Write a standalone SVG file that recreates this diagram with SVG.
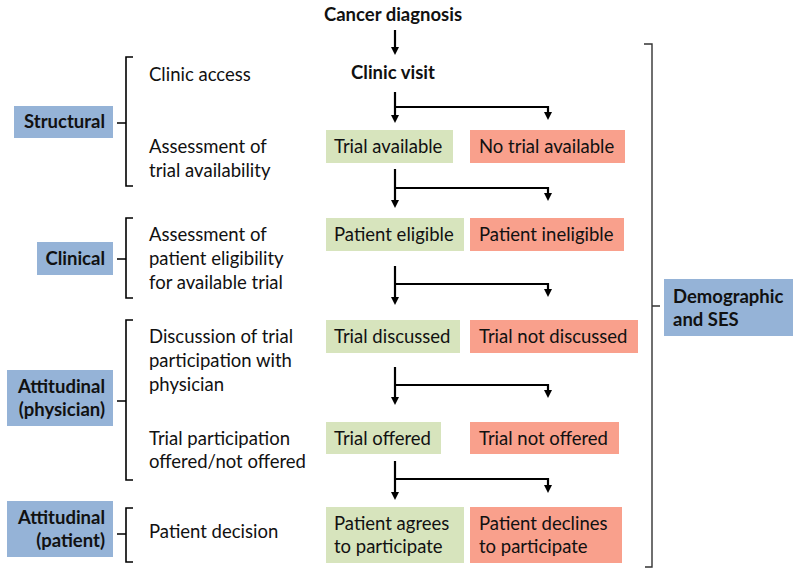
<svg xmlns="http://www.w3.org/2000/svg" width="800" height="576" viewBox="0 0 800 576">
<style>
.t{font-family:Lato,"Liberation Sans",sans-serif;font-size:18.5px;fill:#111}
.b{font-family:Lato,"Liberation Sans",sans-serif;font-size:18.5px;font-weight:bold;fill:#111}
.r{text-anchor:end}
.g{fill:#d7e4bd}
.s{fill:#f9a08c}
.c{fill:#95b3d7}
.ln{stroke:#000;stroke-width:2.2;fill:none}
.br{stroke:#000;stroke-width:1.6;fill:none}
.bb{stroke:#333;stroke-width:1.4;fill:none}
</style>
<defs>
<marker id="ah" markerUnits="userSpaceOnUse" viewBox="0 0 8 8" refX="2" refY="4" markerWidth="8" markerHeight="8" orient="auto">
<path d="M0,0 L8,4 L0,8 z" fill="#000"/>
</marker>
</defs>
<rect width="800" height="576" fill="#fff"/>

<g id="cancer-diagnosis"><text class="b" x="393" y="21" text-anchor="middle">Cancer diagnosis</text></g>
<g id="clinic-visit"><text class="b" x="393" y="79" text-anchor="middle">Clinic visit</text></g>

<g id="trial-available"><rect class="g" x="326" y="130" width="127" height="33"/><text class="t" x="334" y="153">Trial available</text></g>
<g id="no-trial-available"><rect class="s" x="470" y="130" width="155" height="33"/><text class="t" x="479" y="153">No trial available</text></g>
<g id="patient-eligible"><rect class="g" x="326" y="218" width="138" height="33"/><text class="t" x="334" y="241">Patient eligible</text></g>
<g id="patient-ineligible"><rect class="s" x="470" y="218" width="154" height="33"/><text class="t" x="479" y="241">Patient ineligible</text></g>
<g id="trial-discussed"><rect class="g" x="326" y="320" width="134" height="33"/><text class="t" x="334" y="343">Trial discussed</text></g>
<g id="trial-not-discussed"><rect class="s" x="470" y="320" width="168" height="33"/><text class="t" x="479" y="343">Trial not discussed</text></g>
<g id="trial-offered"><rect class="g" x="326" y="422" width="115" height="32"/><text class="t" x="334" y="445">Trial offered</text></g>
<g id="trial-not-offered"><rect class="s" x="470" y="422" width="149" height="32"/><text class="t" x="479" y="445">Trial not offered</text></g>
<g id="patient-agrees"><rect class="g" x="326" y="507" width="138" height="56"/><text class="t" x="334" y="530">Patient agrees</text><text class="t" x="334" y="553">to participate</text></g>
<g id="patient-declines"><rect class="s" x="470" y="507" width="152" height="56"/><text class="t" x="479" y="530">Patient declines</text><text class="t" x="479" y="553">to participate</text></g>

<g id="structural"><rect class="c" x="14" y="106" width="99" height="32"/><text class="b r" x="105" y="128">Structural</text></g>
<g id="clinical"><rect class="c" x="37" y="242" width="76" height="33"/><text class="b r" x="105" y="265">Clinical</text></g>
<g id="attitudinal-physician"><rect class="c" x="7" y="370" width="106" height="56"/><text class="b r" x="105" y="393">Attitudinal</text><text class="b r" x="105" y="416">(physician)</text></g>
<g id="attitudinal-patient"><rect class="c" x="7" y="501" width="106" height="56"/><text class="b r" x="105" y="524">Attitudinal</text><text class="b r" x="105" y="547">(patient)</text></g>
<g id="demographic-ses"><rect class="c" x="664" y="279" width="129" height="57"/><text class="b" x="673" y="303">Demographic</text><text class="b" x="673" y="326">and SES</text></g>

<g id="step-labels">
<text class="t" x="149" y="81">Clinic access</text>
<text class="t" x="149" y="153">Assessment of</text>
<text class="t" x="149" y="177">trial availability</text>
<text class="t" x="149" y="241">Assessment of</text>
<text class="t" x="149" y="265">patient eligibility</text>
<text class="t" x="149" y="289">for available trial</text>
<text class="t" x="149" y="343">Discussion of trial</text>
<text class="t" x="149" y="367">participation with</text>
<text class="t" x="149" y="391">physician</text>
<text class="t" x="149" y="445">Trial participation</text>
<text class="t" x="149" y="468">offered/not offered</text>
<text class="t" x="149" y="538">Patient decision</text>
</g>

<g id="brackets">
<path class="br" d="M133,57 H126 V186 H133 M126,123 H117"/>
<path class="br" d="M133,218 H126 V298 H133 M126,259 H117"/>
<path class="br" d="M133,320 H126 V480 H133 M126,401 H117"/>
<path class="br" d="M133,508 H126 V562 H133 M126,534 H117"/>
<path class="bb" d="M644,44 H652 V567 H645 M652,306 H660"/>
</g>

<g id="connectors">
<path class="ln" d="M395,30 V49" marker-end="url(#ah)"/>
<path class="ln" d="M395,92 V117" marker-end="url(#ah)"/>
<path class="ln" d="M395,107 H548 V114" marker-end="url(#ah)"/>
<path class="ln" d="M395,169 V202" marker-end="url(#ah)"/>
<path class="ln" d="M395,188 H548 V195" marker-end="url(#ah)"/>
<path class="ln" d="M395,266 V299" marker-end="url(#ah)"/>
<path class="ln" d="M395,284 H548 V291" marker-end="url(#ah)"/>
<path class="ln" d="M395,367 V399" marker-end="url(#ah)"/>
<path class="ln" d="M395,385 H548 V392" marker-end="url(#ah)"/>
<path class="ln" d="M395,461 V494" marker-end="url(#ah)"/>
<path class="ln" d="M395,479 H548 V487" marker-end="url(#ah)"/>
</g>
</svg>
